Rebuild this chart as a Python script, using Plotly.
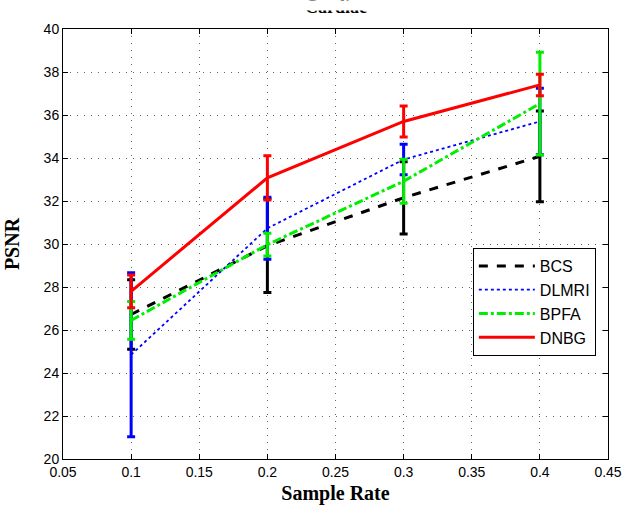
import plotly.graph_objects as go

sample_rate = [0.1, 0.2, 0.3, 0.4]
series_names = ["BCS", "DLMRI", "BPFA", "DNBG"]
bcs_mean = [26.72, 29.92, 32.15, 34.08]
bcs_err = [1.62, 2.18, 1.68, 2.11]
dlmri_mean = [24.85, 30.73, 33.93, 35.70]
dlmri_err = [3.81, 1.44, 0.71, 1.55]
bpfa_mean = [26.45, 29.97, 32.92, 36.53]
bpfa_err = [0.88, 0.53, 1.02, 2.39]
dnbg_mean = [27.80, 33.08, 35.70, 37.40]
dnbg_err = [0.76, 1.03, 0.72, 0.50]
x_ticks = [0.05, 0.1, 0.15, 0.2, 0.25, 0.3, 0.35, 0.4, 0.45]
y_ticks = [20, 22, 24, 26, 28, 30, 32, 34, 36, 38, 40]

means = [bcs_mean, dlmri_mean, bpfa_mean, dnbg_mean]
errs = [bcs_err, dlmri_err, bpfa_err, dnbg_err]
styles = [
    dict(color="#000000", dash="dash", width=3),
    dict(color="#0000ff", dash="dot", width=1.8),
    dict(color="#00ee00", dash="dashdot", width=3),
    dict(color="#ff0000", dash="solid", width=3),
]

fig = go.Figure()
for name, m, e, st in zip(series_names, means, errs, styles):
    fig.add_trace(go.Scatter(
        x=sample_rate, y=m, name=name, mode="lines",
        line=dict(color=st["color"], dash=st["dash"], width=st["width"]),
        error_y=dict(type="data", array=e, visible=True, color=st["color"],
                     thickness=3, width=4),
    ))

axis_common = dict(
    showline=True, linecolor="black", linewidth=1, mirror="ticks",
    ticks="inside", ticklen=5, tickcolor="black",
    showgrid=True, gridcolor="#666666", griddash="1px,6px", gridwidth=1,
    zeroline=False,
    tickfont=dict(family="Liberation Sans, Arial", size=14, color="black"),
)

fig.update_layout(
    width=636, height=508,
    margin=dict(l=63, r=28, t=29, b=49, autoexpand=False),
    paper_bgcolor="white", plot_bgcolor="white",
    xaxis=dict(range=[0.05, 0.45], tickvals=x_ticks,
               ticktext=[f"{v:g}" for v in x_ticks],
               title=dict(text="<b>Sample Rate</b>", standoff=7,
                          font=dict(family="Liberation Serif, Times New Roman", size=20, color="black")),
               **axis_common),
    yaxis=dict(range=[20, 40], tickvals=y_ticks,
               title=dict(text="<b>PSNR</b>", standoff=18,
                          font=dict(family="Liberation Serif, Times New Roman", size=20, color="black")),
               **axis_common),
    legend=dict(x=0.752, y=0.4907, xanchor="left", yanchor="top",
                bgcolor="white", bordercolor="black", borderwidth=1,
                font=dict(family="Liberation Sans, Arial", size=16, color="black"),
                tracegroupgap=2, itemwidth=56),
    showlegend=True,
)
# Title (its upper part is hidden in the reference)
fig.add_annotation(text="<b>Cardiac</b>", xref="paper", yref="paper",
                   x=0.5, y=1 + 10 / 430, xanchor="center", yanchor="bottom",
                   showarrow=False,
                   font=dict(family="Liberation Serif, Times New Roman", size=18, color="black"))
fig.add_annotation(text="", xref="paper", yref="paper",
                   x=0.5, y=1 + 29 / 430, xanchor="center", yanchor="top",
                   width=120, height=9, bgcolor="white", borderpad=0,
                   showarrow=False)

fig.write_html("out.html", post_script="document.body.style.margin='0';",
               config={"displayModeBar": False})
